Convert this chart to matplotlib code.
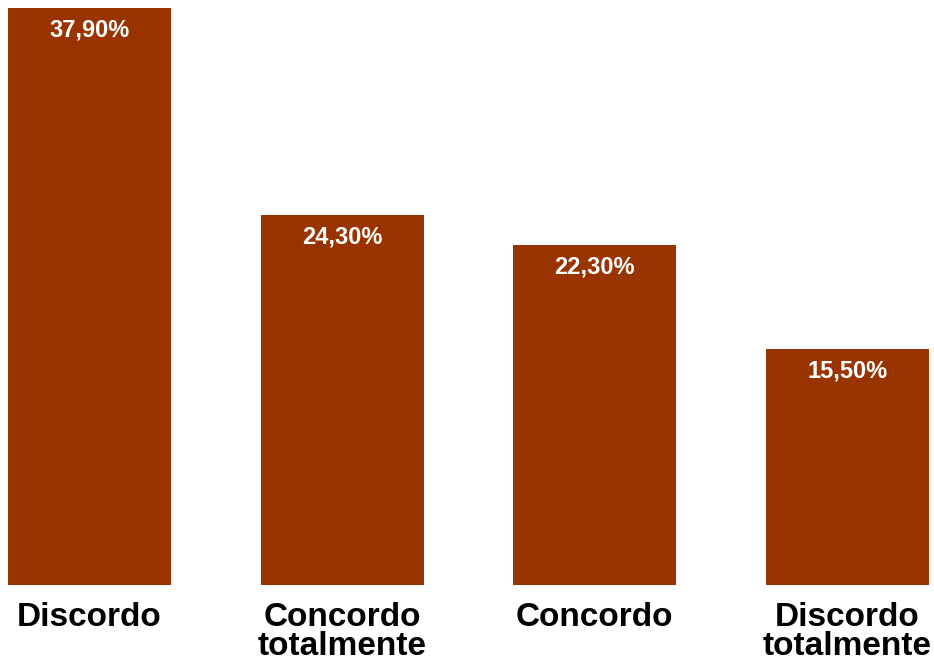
import matplotlib
matplotlib.use("Agg")
import matplotlib.pyplot as plt

categories = ["Discordo", "Concordo\ntotalmente", "Concordo", "Discordo\ntotalmente"]
values = [37.9, 24.3, 22.3, 15.5]
labels = ["37,90%", "24,30%", "22,30%", "15,50%"]

color = "#993300"

fig = plt.figure(figsize=(9.34, 6.67), dpi=100)
ax = fig.add_axes([0, 1 - 585 / 667, 1, (585 - 8) / 667])

x = list(range(len(values)))
width = 0.645
bars = ax.bar(x, values, width=width, color=color)

ax.set_xlim(-0.354, 3.342)
ax.set_ylim(0, 37.9)

for xi, v, lab in zip(x, values, labels):
    ax.annotate(lab, (xi, v), xytext=(0, -7.5), textcoords="offset points",
                ha="center", va="top", color="white", fontweight="bold",
                fontsize=17, family="Liberation Sans")

ax.set_xticks(x)
ax.set_xticklabels(categories, fontsize=24, fontweight="bold",
                   family="Liberation Sans", linespacing=0.95)
ax.tick_params(axis="x", length=0, pad=12)
ax.set_yticks([])
for s in ax.spines.values():
    s.set_visible(False)

fig.savefig("out.png", dpi=100)
